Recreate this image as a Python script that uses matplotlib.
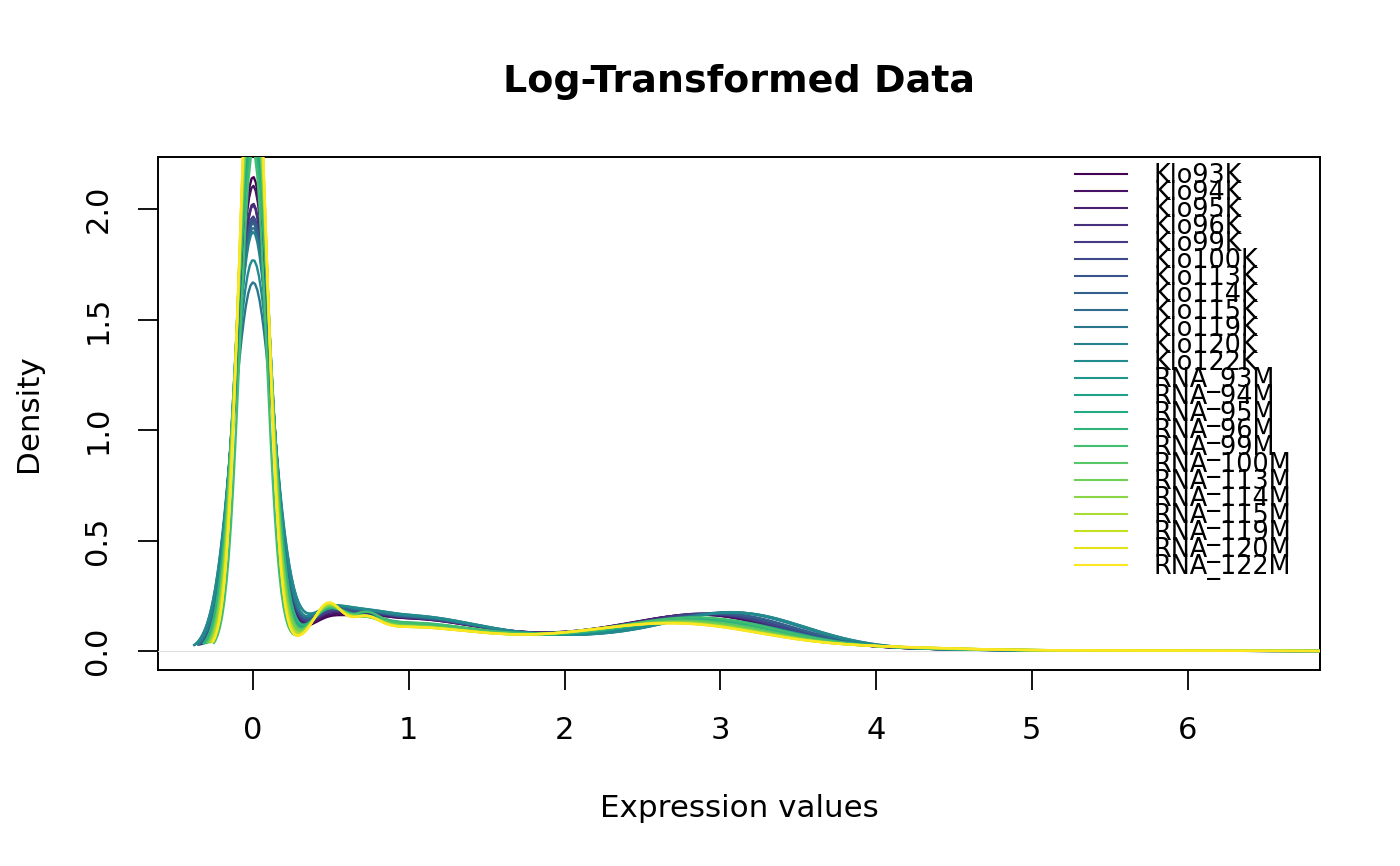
import numpy as np
import matplotlib
matplotlib.use("Agg")
import matplotlib.pyplot as plt
from matplotlib.lines import Line2D

# sample names, in legend order
samples = ["Klo93K", "Klo94K", "Klo95K", "Klo96K", "Klo99K", "Klo100K",
           "Klo113K", "Klo114K", "Klo115K", "Klo119K", "Klo120K", "Klo122K",
           "RNA_93M", "RNA_94M", "RNA_95M", "RNA_96M", "RNA_99M", "RNA_100M",
           "RNA_113M", "RNA_114M", "RNA_115M", "RNA_119M", "RNA_120M", "RNA_122M"]

# kernel bandwidth of each density curve
bandwidth = [0.111, 0.112, 0.114, 0.115, 0.116, 0.118,
             0.117, 0.118, 0.120, 0.128, 0.120, 0.126,
             0.107, 0.105, 0.102, 0.107, 0.085, 0.099,
             0.096, 0.093, 0.091, 0.089, 0.087, 0.086]

# share of values that are exactly zero
zero_frac = [0.590, 0.584, 0.571, 0.574, 0.564, 0.569,
             0.566, 0.565, 0.568, 0.526, 0.562, 0.550,
             0.616, 0.620, 0.621, 0.611, 0.478, 0.627,
             0.632, 0.636, 0.633, 0.642, 0.638, 0.642]

# share of values at the small steps near 0.48 and 0.72
step1_frac = [0.016, 0.018, 0.020, 0.021, 0.022, 0.023,
              0.025, 0.026, 0.027, 0.027, 0.028, 0.028,
              0.029, 0.029, 0.030, 0.030, 0.028, 0.031,
              0.031, 0.032, 0.032, 0.032, 0.032, 0.032]
step2_frac = [0.008, 0.008, 0.009, 0.009, 0.010, 0.010,
              0.010, 0.010, 0.010, 0.010, 0.010, 0.010,
              0.011, 0.011, 0.011, 0.011, 0.013, 0.012,
              0.012, 0.013, 0.013, 0.013, 0.013, 0.013]

# low-expression plateau (around 1) and middle range (around 2.2)
plateau_frac = [0.185, 0.185, 0.190, 0.190, 0.190, 0.192,
                0.195, 0.195, 0.200, 0.205, 0.200, 0.205,
                0.160, 0.155, 0.150, 0.150, 0.160, 0.145,
                0.140, 0.138, 0.136, 0.135, 0.135, 0.135]
middle_frac = [0.072, 0.072, 0.072, 0.072, 0.070, 0.070,
               0.068, 0.068, 0.066, 0.066, 0.066, 0.066,
               0.068, 0.068, 0.068, 0.068, 0.075, 0.068,
               0.068, 0.068, 0.068, 0.068, 0.068, 0.068]

# expressed-gene hump near 3
hump_frac = [0.165, 0.165, 0.168, 0.168, 0.170, 0.170,
             0.170, 0.172, 0.178, 0.178, 0.176, 0.178,
             0.145, 0.142, 0.140, 0.140, 0.150, 0.135,
             0.130, 0.125, 0.123, 0.122, 0.120, 0.120]
hump_center = [2.95, 2.95, 2.97, 2.97, 3.00, 3.00,
               3.05, 3.05, 3.10, 3.12, 3.10, 3.12,
               3.00, 2.98, 2.95, 2.95, 2.95, 2.90,
               2.88, 2.87, 2.86, 2.85, 2.85, 2.85]
hump_spread = [0.45, 0.45, 0.44, 0.44, 0.44, 0.44,
               0.43, 0.43, 0.42, 0.42, 0.42, 0.42,
               0.45, 0.45, 0.46, 0.46, 0.46, 0.47,
               0.48, 0.48, 0.49, 0.49, 0.49, 0.49]
tail_frac = [0.012, 0.012, 0.012, 0.012, 0.011, 0.011,
             0.011, 0.011, 0.010, 0.010, 0.010, 0.010,
             0.014, 0.014, 0.015, 0.015, 0.016, 0.017,
             0.018, 0.019, 0.019, 0.020, 0.020, 0.020]

# largest value in each sample
max_value = [6.24, 6.55, 6.40, 6.70, 6.45, 6.80,
             6.60, 6.90, 6.50, 6.75, 6.35, 6.85,
             6.65, 6.50, 6.90, 6.40, 6.70, 6.60,
             6.80, 6.45, 6.95, 6.55, 6.75, 6.90]

x_ticks = [0, 1, 2, 3, 4, 5, 6]
y_ticks = [0.0, 0.5, 1.0, 1.5, 2.0]

STEP1, STEP2 = 0.48, 0.72
PLATEAU = (0.95, 0.5)
MIDDLE = (2.2, 0.5)
TAIL = (4.0, 0.5)
FAR_TAIL = (5.3, 0.7, 0.004)


def normal(x, mu, sd):
    return np.exp(-0.5 * ((x - mu) / sd) ** 2) / (sd * np.sqrt(2 * np.pi))


def smoothed(x, w, mu, sd, bw):
    # a normal part seen through a gaussian kernel of width bw
    return w * normal(x, mu, np.sqrt(sd ** 2 + bw ** 2))


def density_curve(i):
    bw = bandwidth[i]
    x = np.linspace(-3 * bw, max_value[i] + 3 * bw, 512)
    y = (smoothed(x, zero_frac[i], 0.0, 0.0, bw)
         + smoothed(x, step1_frac[i], STEP1, 0.0, bw)
         + smoothed(x, step2_frac[i], STEP2, 0.0, bw)
         + smoothed(x, plateau_frac[i], PLATEAU[0], PLATEAU[1], bw)
         + smoothed(x, middle_frac[i], MIDDLE[0], MIDDLE[1], bw)
         + smoothed(x, hump_frac[i], hump_center[i], hump_spread[i], bw)
         + smoothed(x, tail_frac[i], TAIL[0], TAIL[1], bw)
         + smoothed(x, FAR_TAIL[2], FAR_TAIL[0], FAR_TAIL[1], bw))
    return x, y


W, H = 1400, 866
fig = plt.figure(figsize=(W / 100, H / 100), dpi=100)
ax = fig.add_axes([158 / W, 1 - 670 / H, (1320 - 158) / W, (670 - 157) / H])

colors = plt.cm.viridis(np.linspace(0, 1, len(samples)))

for i in range(len(samples)):
    x, y = density_curve(i)
    ax.plot(x, y, color=colors[i], lw=1.7, solid_capstyle="butt", zorder=3 + i)
    if i == 0:
        ax.axhline(0, color="#dedede", lw=0.8, zorder=3.5)

ax.set_xlim(-0.61, 6.85)
ax.set_ylim(-0.086, 2.236)
ax.set_xticks(x_ticks)
ax.set_xticklabels([str(t) for t in x_ticks])
ax.set_yticks(y_ticks)
ax.set_yticklabels([f"{t:.1f}" for t in y_ticks], rotation=90, va="center")
ax.tick_params(direction="out", length=14.4, width=1.3, labelsize=22, pad=18.5, color="black")
for s in ax.spines.values():
    s.set_linewidth(1.4)

fig.text(739 / W, 1 - 91.7 / H, "Log-Transformed Data", ha="center", va="baseline",
         fontsize=27.4, fontweight="bold")
fig.text(739 / W, 1 - 817 / H, "Expression values", ha="center", va="baseline", fontsize=22.3)
fig.text(29 / W, 1 - 413.5 / H, "Density", ha="center", va="center", rotation=90, fontsize=22.3)

# legend, packed tightly as in the original
for i, name in enumerate(samples):
    yl = 174 + i * 17.0
    fig.add_artist(Line2D([1075 / W, 1127 / W], [1 - yl / H, 1 - yl / H],
                          color=colors[i], lw=1.5, transform=fig.transFigure))
    fig.text(1153 / W, 1 - (yl + 9.3) / H, name, ha="left", va="baseline", fontsize=18.4)

fig.savefig("out.png", dpi=100)
